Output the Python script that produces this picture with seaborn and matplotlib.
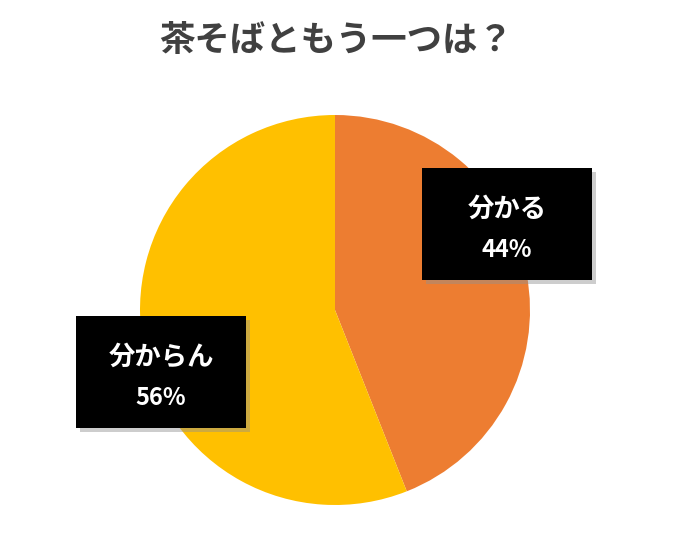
import matplotlib
matplotlib.use('Agg')
import matplotlib.pyplot as plt
import matplotlib.patches as mpatches
import matplotlib.patheffects as pe
import seaborn as sns

labels = ['分かる', '分からん']
values = [44, 56]
colors = ['#ED7D31', '#FFC000']
title = '茶そばともう一つは？'

sns.set_theme(style='white')
plt.rcParams['font.family'] = ['Noto Sans CJK JP', 'DejaVu Sans']

W, H = 682, 536
fig = plt.figure(figsize=(W / 100, H / 100), dpi=100)
fig.patch.set_facecolor('white')

# pie centre (335, 310) px, radius 195 px
cx, cy, r = 335, 310, 195
ax = fig.add_axes([(cx - r) / W, (H - cy - r) / H, 2 * r / W, 2 * r / H])
ax.pie(values, colors=colors, startangle=90, counterclock=False,
       wedgeprops=dict(linewidth=0))
ax.set_xlim(-1, 1)
ax.set_ylim(-1, 1)
ax.set_aspect('equal')
ax.axis('off')


def px(x, y):
    return (x - cx) / r, (cy - y) / r


# label boxes (left, top, right, bottom) in pixels
boxes = [(422, 168, 592, 280), (76, 316, 246, 428)]
for (l, t, rr, b), lab, v in zip(boxes, labels, values):
    x0, y1 = px(l, t)
    x1, y0 = px(rr, b)
    rect = mpatches.Rectangle((x0, y0), x1 - x0, y1 - y0, facecolor='black',
                              edgecolor='none', clip_on=False, zorder=5)
    rect.set_path_effects([pe.SimplePatchShadow(offset=(3, -3), shadow_rgbFace='#909090', alpha=0.45),
                           pe.Normal()])
    ax.add_patch(rect)
    mx = (x0 + x1) / 2
    ax.text(mx, px(0, t + 41)[1], lab, color='white', fontsize=19, fontweight='bold',
            ha='center', va='center', zorder=6)
    ax.text(mx, px(0, t + 82)[1], f'{v}%', color='white', fontsize=17, fontweight='bold',
            ha='center', va='center', zorder=6)

fig.text(336 / W, 1 - 41 / H, title, fontsize=25.5, fontweight='bold', color='#404040',
         ha='center', va='center')

fig.savefig('out.png', dpi=100, facecolor='white')
